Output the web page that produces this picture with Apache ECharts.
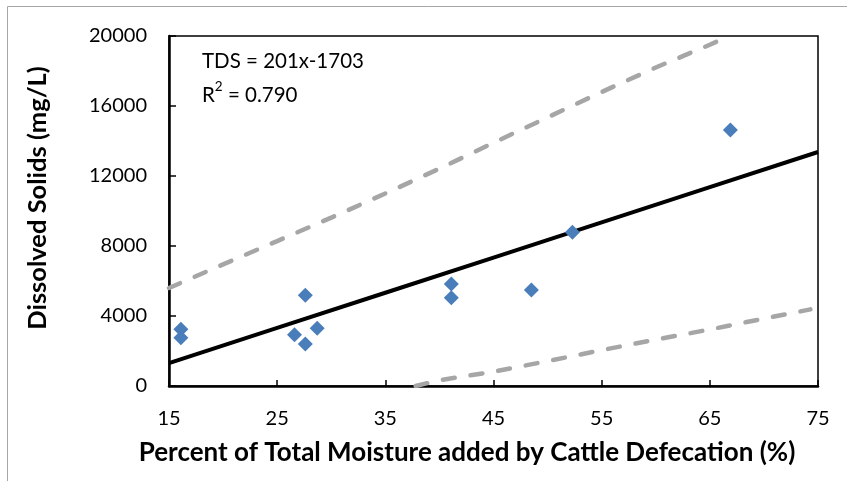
<!DOCTYPE html>
<html>
<head>
<meta charset="utf-8">
<script src="https://cdn.jsdelivr.net/npm/echarts@6.0.0/dist/echarts.min.js"></script>
<style>
  html, body { margin: 0; padding: 0; background: #fff; }
  #main { width: 847px; height: 481px; }
</style>
</head>
<body>
<div id="main"></div>
<script>
// observed samples
var sampleX = [16.1, 16.1, 27.6, 26.6, 27.6, 28.7, 41.1, 41.1, 48.5, 52.3, 66.9];
var sampleY = [3240, 2760, 5180, 2930, 2400, 3300, 5830, 5050, 5490, 8780, 14630];

// fitted line TDS = 201x - 1703
var fitX = [15, 25, 35, 45, 55, 65, 75];
var fitY = [1310, 3320, 5330, 7340, 9350, 11360, 13370];

// upper / lower dashed bounds
var upperX = [15, 20, 25, 30, 35, 40, 45, 50, 55, 60, 65, 66.8];
var upperY = [5600, 6950, 8280, 9620, 11000, 12420, 13900, 15350, 16800, 18200, 19500, 20000];
var lowerX = [37.8, 40, 45, 50, 55, 60, 65, 70, 74.3];
var lowerY = [0, 330, 820, 1420, 2050, 2650, 3230, 3850, 4380];

var xTicks = [15, 25, 35, 45, 55, 65, 75];
var yTicks = [0, 4000, 8000, 12000, 16000, 20000];

function pairs(xs, ys) {
  return xs.map(function (x, i) { return [x, ys[i]]; });
}

var font = 'Lato, "Open Sans", sans-serif';
var chart = echarts.init(document.getElementById('main'));

var option = {
  animation: false,
  grid: {
    left: 169, right: 29, top: 36, bottom: 95,
    show: true, borderColor: '#000', borderWidth: 1.5, backgroundColor: 'transparent'
  },
  xAxis: {
    type: 'value',
    min: xTicks[0], max: xTicks[xTicks.length - 1], interval: 10,
    axisLine: { show: true, onZero: false, lineStyle: { color: '#000', width: 2.5 } },
    axisTick: { show: true, inside: true, length: 6, lineStyle: { color: '#000', width: 1.5 } },
    axisLabel: { color: '#000', fontFamily: font, fontSize: 20, margin: 23 },
    splitLine: { show: false }
  },
  yAxis: {
    type: 'value',
    min: yTicks[0], max: yTicks[yTicks.length - 1], interval: 4000,
    axisLine: { show: true, onZero: false, lineStyle: { color: '#000', width: 2.5 } },
    axisTick: { show: true, inside: true, length: 7, lineStyle: { color: '#000', width: 1.5 } },
    axisLabel: {
      color: '#000', fontFamily: font, fontSize: 20, margin: 22,
      formatter: function (v) { return String(v); }
    },
    splitLine: { show: false }
  },
  graphic: [
    {
      type: 'rect', silent: true, z: -10,
      shape: { x: 7.5, y: 6.5, width: 860, height: 500 },
      style: { fill: 'none', stroke: '#a6a6a6', lineWidth: 1 }
    },
    {
      type: 'text', left: 202, top: 51,
      style: { text: 'TDS = 201x-1703', font: '20.5px ' + font, fill: '#000' }
    },
    {
      type: 'text', left: 202, top: 80,
      style: {
        text: '{b|R}{s|2}{b| = 0.790}',
        fill: '#000',
        rich: {
          b: { fontFamily: font, fontSize: 20.5, lineHeight: 26, verticalAlign: 'bottom', fill: '#000' },
          s: { fontFamily: font, fontSize: 13.5, lineHeight: 14, verticalAlign: 'top', fill: '#000' }
        }
      }
    },
    {
      type: 'text', x: 467, y: 453,
      style: {
        text: 'Percent of Total Moisture added by Cattle Defecation (%)',
        font: 'bold 26px ' + font, fill: '#000', align: 'center', verticalAlign: 'middle'
      }
    },
    {
      type: 'text', x: 38, y: 198, rotation: Math.PI / 2,
      style: {
        text: 'Dissolved Solids (mg/L)',
        font: 'bold 25.5px ' + font, fill: '#000', align: 'center', verticalAlign: 'middle'
      }
    }
  ],
  series: [
    {
      name: 'upper', type: 'line', data: pairs(upperX, upperY),
      showSymbol: false, symbol: 'none', z: 2,
      lineStyle: { color: '#a6a6a6', width: 4.5, type: [12, 16], cap: 'round' }
    },
    {
      name: 'lower', type: 'line', data: pairs(lowerX, lowerY),
      showSymbol: false, symbol: 'none', z: 2,
      lineStyle: { color: '#a6a6a6', width: 4.5, type: [12, 16], cap: 'round' }
    },
    {
      name: 'fit', type: 'line', data: pairs(fitX, fitY),
      showSymbol: false, symbol: 'none', z: 3,
      lineStyle: { color: '#000', width: 4 }
    },
    {
      name: 'samples', type: 'scatter', data: pairs(sampleX, sampleY),
      symbol: 'diamond', symbolSize: 15, z: 4,
      itemStyle: { color: '#4a7ebb', opacity: 1 }
    }
  ]
};

chart.setOption(option);
</script>
</body>
</html>
